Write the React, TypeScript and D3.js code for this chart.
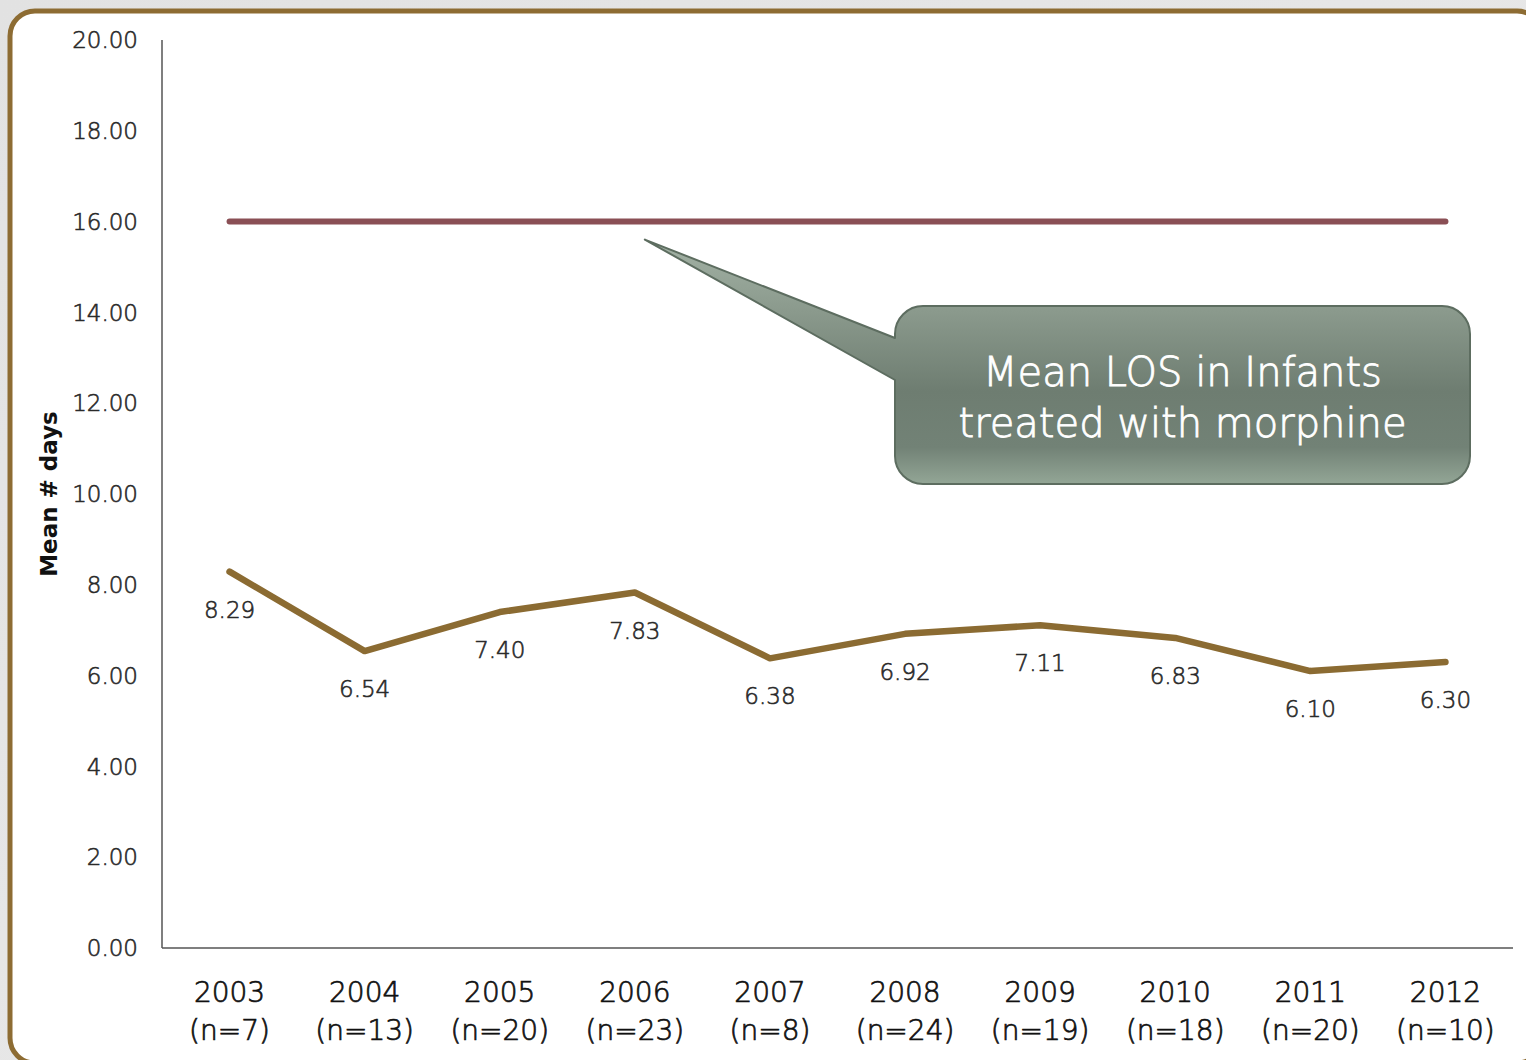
import React from "react";
import * as d3 from "d3";

// Mean length of stay per year, with the morphine-treated comparison level
const years = ["2003", "2004", "2005", "2006", "2007", "2008", "2009", "2010", "2011", "2012"];
const counts = ["(n=7)", "(n=13)", "(n=20)", "(n=23)", "(n=8)", "(n=24)", "(n=19)", "(n=18)", "(n=20)", "(n=10)"];
const meanLos = [8.29, 6.54, 7.4, 7.83, 6.38, 6.92, 7.11, 6.83, 6.1, 6.3];
const morphineLos = [16, 16, 16, 16, 16, 16, 16, 16, 16, 16];
const yTicks = [0, 2, 4, 6, 8, 10, 12, 14, 16, 18, 20];
const calloutLines = ["Mean LOS in Infants", "treated with morphine"];

const W = 1526;
const H = 1060;
const FONT = "'DejaVu Sans', 'Liberation Sans', sans-serif";
const LIGHT = 300;

// thin-weight text, slightly thickened with a hairline outline
const thin = (color: string, w = 0.6) => ({
  fontFamily: FONT,
  fontWeight: LIGHT,
  fill: color,
  stroke: color,
  strokeWidth: w,
});

export default function App() {
  const left = 162;
  const right = 1513;
  const top = 40;
  const bottom = 948;

  const x = d3.scalePoint<string>().domain(years).range([left, right]).padding(0.5);
  const y = d3.scaleLinear().domain([0, 20]).range([bottom, top]);

  const line = d3
    .line<number>()
    .x((_, i) => x(years[i]) as number)
    .y((d) => y(d));

  // callout box with a pointer aimed at the morphine line
  const bx0 = 895, bx1 = 1470, by0 = 306, by1 = 484, r = 28;
  const tipX = (x("2006") as number) + 10;
  const tipY = y(16) + 18;
  const calloutPath = [
    `M${bx0 + r},${by0}`,
    `H${bx1 - r}`,
    `A${r},${r} 0 0 1 ${bx1},${by0 + r}`,
    `V${by1 - r}`,
    `A${r},${r} 0 0 1 ${bx1 - r},${by1}`,
    `H${bx0 + r}`,
    `A${r},${r} 0 0 1 ${bx0},${by1 - r}`,
    `V380`,
    `L${tipX},${tipY}`,
    `L${bx0},338`,
    `V${by0 + r}`,
    `A${r},${r} 0 0 1 ${bx0 + r},${by0}`,
    "Z",
  ].join(" ");

  return (
    <div style={{ position: "absolute", left: 0, top: 0, width: W, height: H }}>
      <svg width={W} height={H} style={{ display: "block" }}>
        <defs>
          <linearGradient id="calloutFill" gradientUnits="userSpaceOnUse" x1="0" y1={tipY} x2="0" y2={by1}>
            <stop offset="0" stopColor="#a3b2a5" />
            <stop offset="0.3" stopColor="#8a998c" />
            <stop offset="0.62" stopColor="#6e7d71" />
            <stop offset="0.85" stopColor="#728276" />
            <stop offset="1" stopColor="#93a696" />
          </linearGradient>
          <linearGradient id="pageBg" x1="0" y1="0" x2="1" y2="1">
            <stop offset="0" stopColor="#e2e2e2" />
            <stop offset="1" stopColor="#ebebeb" />
          </linearGradient>
        </defs>

        <rect x={0} y={0} width={W} height={H} fill="url(#pageBg)" />
        <rect x={10} y={11} width={1532} height={1052} rx={25} ry={25} fill="#ffffff" stroke="#8d6c33" strokeWidth={5} />

        {/* y axis ticks */}
        {yTicks.map((t) => (
          <text key={t} x={138} y={y(t)} dy="0.36em" textAnchor="end" fontSize={23} {...thin("#2a2a2a")}>
            {t.toFixed(2)}
          </text>
        ))}

        <text
          transform={`translate(57,${494}) rotate(-90)`}
          textAnchor="middle"
          fontFamily={FONT}
          fontWeight="bold"
          fontSize={23}
          fill="#111111"
        >
          Mean # days
        </text>

        {/* axes */}
        <line x1={left} x2={left} y1={top} y2={bottom} stroke="#555555" strokeWidth={1.5} />
        <line x1={left} x2={right} y1={bottom} y2={bottom} stroke="#555555" strokeWidth={1.5} />

        {/* x labels */}
        {years.map((yr, i) => (
          <g key={yr}>
            <text x={x(yr)} y={1002} textAnchor="middle" fontSize={28} {...thin("#111111", 0.7)}>
              {yr}
            </text>
            <text x={x(yr)} y={1040} textAnchor="middle" fontSize={28} {...thin("#111111", 0.7)}>
              {counts[i]}
            </text>
          </g>
        ))}

        {/* morphine comparison line */}
        <path d={line(morphineLos) ?? ""} fill="none" stroke="#8a4f55" strokeWidth={6} strokeLinecap="round" />

        {/* mean LOS series */}
        <path
          d={line(meanLos) ?? ""}
          fill="none"
          stroke="#8b6b32"
          strokeWidth={6.5}
          strokeLinecap="round"
          strokeLinejoin="round"
        />
        {meanLos.map((v, i) => (
          <text key={years[i]} x={x(years[i])} y={y(v) + 46} textAnchor="middle" fontSize={23} {...thin("#2a2a2a")}>
            {v.toFixed(2)}
          </text>
        ))}

        {/* callout */}
        <path d={calloutPath} fill="url(#calloutFill)" stroke="#5d6d60" strokeWidth={2} strokeLinejoin="round" />
        {calloutLines.map((s, i) => (
          <text key={s} x={(bx0 + bx1) / 2} y={386 + i * 51} textAnchor="middle" fontSize={40} {...thin("#ffffff", 0.8)}>
            {s}
          </text>
        ))}
      </svg>
    </div>
  );
}
